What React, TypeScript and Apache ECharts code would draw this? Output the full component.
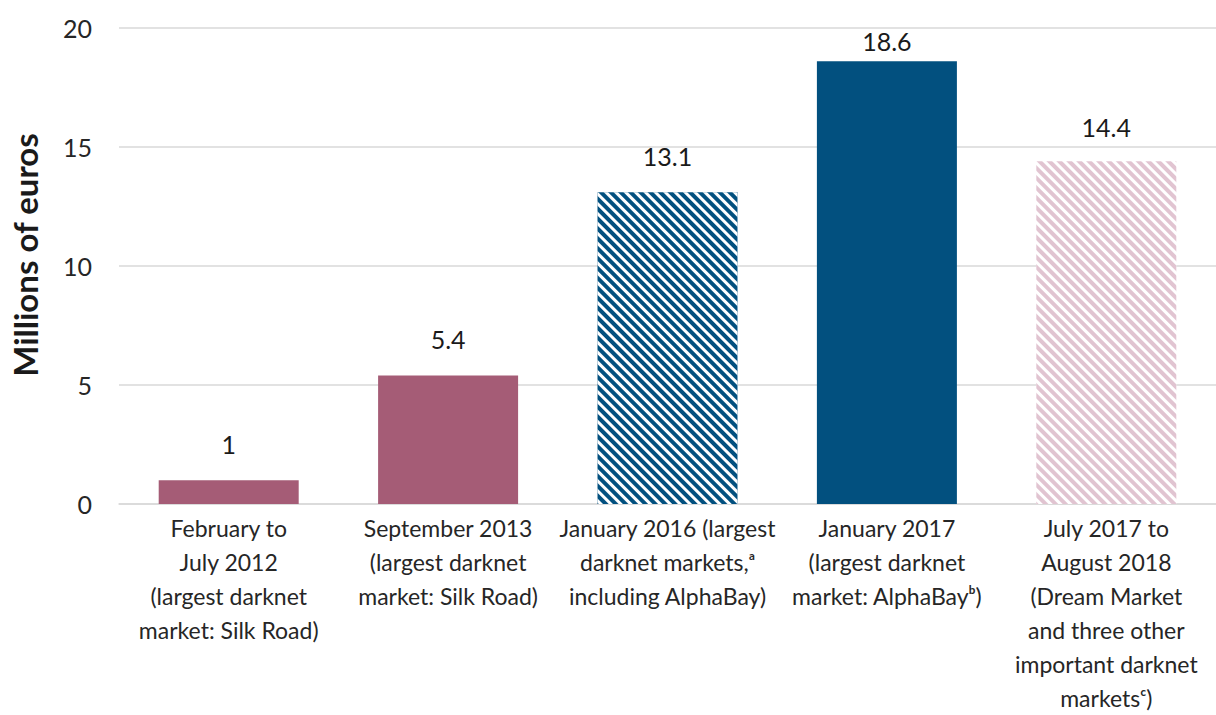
import React, { useEffect, useRef } from "react";
import * as echarts from "echarts";

const categories: string[] = [
  "February to\nJuly 2012\n(largest darknet\nmarket: Silk Road)",
  "September 2013\n(largest darknet\nmarket: Silk Road)",
  "January 2016 (largest\ndarknet markets,\u1D43\nincluding AlphaBay)",
  "January 2017\n(largest darknet\nmarket: AlphaBay\u1D47)",
  "July 2017 to\nAugust 2018\n(Dream Market\nand three other\nimportant darknet\nmarkets\u1D9C)",
];
const values: number[] = [1, 5.4, 13.1, 18.6, 14.4];
const valueLabels: string[] = ["1", "5.4", "13.1", "18.6", "14.4"];
const yTicks: number[] = [0, 5, 10, 15, 20];
const yAxisTitle = "Millions of euros";

const FONT = "Lato, 'Open Sans', sans-serif";
const MAUVE = "#A55C76";
const BLUE = "#02507F";
const PINK_LIGHT = "#E1C4D1";

export default function App() {
  const ref = useRef<HTMLDivElement>(null);
  useEffect(() => {
    if (!ref.current) return;
    const chart = echarts.init(ref.current, undefined, { renderer: "svg" });
    const styles = [
      { color: MAUVE },
      { color: MAUVE },
      {
        color: BLUE,
        decal: {
          symbol: "rect",
          color: "#ffffff",
          dashArrayX: [1, 0],
          dashArrayY: [3, 4],
          symbolSize: 1,
          rotation: Math.PI / 4,
        },
      },
      { color: BLUE },
      {
        color: "#ffffff",
        decal: {
          symbol: "rect",
          color: PINK_LIGHT,
          dashArrayX: [1, 0],
          dashArrayY: [4, 3],
          symbolSize: 1,
          rotation: Math.PI / 4,
        },
      },
    ];
    const labelDistances = [24, 24, 24, 8, 22];
    chart.setOption({
      animation: false,
      textStyle: { fontFamily: FONT },
      grid: { left: 119, right: 0, top: 28, bottom: 206.5, containLabel: false },
      xAxis: {
        type: "category",
        data: categories,
        axisLine: { show: true, lineStyle: { color: "#D9D9D9", width: 1.5 } },
        axisTick: { show: false },
        axisLabel: {
          interval: 0,
          fontFamily: FONT,
          fontSize: 23,
          lineHeight: 34,
          color: "#262626",
          margin: 7,
        },
      },
      yAxis: {
        type: "value",
        min: yTicks[0],
        max: yTicks[yTicks.length - 1],
        interval: 5,
        axisLine: { show: false },
        axisTick: { show: false },
        splitLine: { lineStyle: { color: "#D9D9D9", width: 1.5 } },
        axisLabel: { fontFamily: FONT, fontSize: 25, color: "#262626", margin: 27 },
      },
      graphic: [
        {
          type: "text",
          x: 25,
          y: 255,
          rotation: Math.PI / 2,
          style: {
            text: yAxisTitle,
            fontFamily: FONT,
            fontWeight: "bold",
            fontSize: 33,
            fill: "#1a1a1a",
            align: "center",
            verticalAlign: "middle",
          },
        },
      ],
      series: [
        {
          type: "bar",
          barWidth: 140,
          data: values.map((v, i) => ({
            value: v,
            itemStyle: styles[i],
            label: { distance: labelDistances[i] },
          })),
          label: {
            show: true,
            position: "top",
            fontFamily: FONT,
            fontSize: 25,
            color: "#1a1a1a",
            formatter: (p: any) => valueLabels[p.dataIndex],
          },
        },
      ],
    });
    return () => chart.dispose();
  }, []);
  return (
    <div
      ref={ref}
      style={{ position: "absolute", left: 0, top: 0, width: 1216, height: 715 }}
    />
  );
}
